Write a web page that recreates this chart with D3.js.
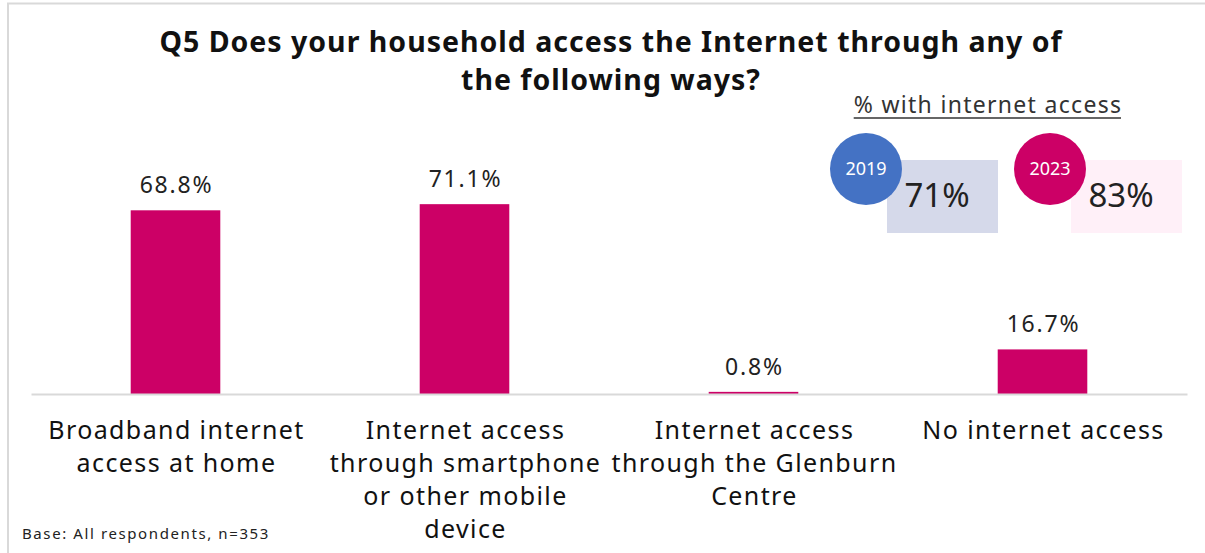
<!DOCTYPE html>
<html>
<head>
<meta charset="utf-8">
<script src="https://cdn.jsdelivr.net/npm/d3@7"></script>
<style>
  html, body { margin: 0; padding: 0; background: #fff; }
  svg { display: block; font-family: "Noto Sans", "DejaVu Sans", sans-serif; }
</style>
</head>
<body>
<svg id="chart" width="1205" height="553"></svg>
<script>
// Survey question Q5: ways households access the Internet
const titleLines = [
  "Q5 Does your household access the Internet through any of",
  "the following ways?"
];
const categories = [
  ["Broadband internet", "access at home"],
  ["Internet access", "through smartphone", "or other mobile", "device"],
  ["Internet access", "through the Glenburn", "Centre"],
  ["No internet access"]
];
const values = [68.8, 71.1, 0.8, 16.7];

// Headline comparison: share of households with internet access
const accessYears = ["2019", "2023"];
const accessShares = [71, 83];
const baseNote = "Base: All respondents, n=353";

const magenta = "#cc0066";
const yearCircleColors = ["#4472c4", "#cc0066"];
const yearBoxColors = ["#d5d9ea", "#fff0f8"];

const svg = d3.select("#chart");

// outer frame (top and left edges)
svg.append("path")
  .attr("d", "M8,553 V3.5 H1205")
  .attr("fill", "none")
  .attr("stroke", "#d9d9d9")
  .attr("stroke-width", 2);

// title
svg.append("text")
  .attr("text-anchor", "middle")
  .attr("font-weight", "bold").attr("font-size", 28.5)
  .attr("letter-spacing", 1)
  .attr("fill", "#111")
  .selectAll("tspan").data(titleLines).join("tspan")
  .attr("x", 611)
  .attr("y", (d, i) => 52 + i * 38)
  .text(d => d);

// bar chart
const x = d3.scaleBand()
  .domain(d3.range(categories.length))
  .range([31, 1187])
  .paddingInner(0.69)
  .paddingOuter(0.345);

const y = d3.scaleLinear().domain([0, 100]).range([394, 127]);

svg.append("g").selectAll("rect").data(values).join("rect")
  .attr("x", (d, i) => x(i))
  .attr("width", x.bandwidth())
  .attr("y", d => y(d))
  .attr("height", d => y(0) - y(d))
  .attr("fill", magenta);

// baseline
const xAxis = d3.axisBottom(x).tickSize(0).tickFormat("");
const axisG = svg.append("g").attr("transform", `translate(0,${y(0)})`).call(xAxis);
axisG.select(".domain").attr("stroke", "#d9d9d9").attr("stroke-width", 2);

// value labels
svg.append("g").selectAll("text").data(values).join("text")
  .attr("x", (d, i) => x(i) + x.bandwidth() / 2 + 1)
  .attr("y", d => y(d) - 17)
  .attr("text-anchor", "middle")
  .attr("font-size", 23)
  .attr("letter-spacing", 1.8)
  .attr("fill", "#222")
  .text(d => d.toFixed(1) + "%");

// category labels
const catG = svg.append("g").selectAll("text").data(categories).join("text")
  .attr("text-anchor", "middle")
  .attr("font-size", 25)
  .attr("letter-spacing", 1.4)
  .attr("fill", "#111");
catG.selectAll("tspan").data((d, i) => d.map(line => ({ line, i }))).join("tspan")
  .attr("x", d => x(d.i) + x.bandwidth() / 2 + 1)
  .attr("y", (d, j) => 439 + j * 33)
  .text(d => d.line);

// base note
svg.append("text")
  .attr("x", 22).attr("y", 539)
  .attr("font-size", 15)
  .attr("letter-spacing", 1.6)
  .attr("fill", "#222")
  .text(baseNote);

// headline comparison panel
const legendTitle = svg.append("text")
  .attr("x", 988).attr("y", 113)
  .attr("text-anchor", "middle")
  .attr("font-size", 23)
  .attr("letter-spacing", 1.3)
  .attr("fill", "#333")
  .text("% with internet access");
const ltBox = legendTitle.node().getBBox();
svg.append("line")
  .attr("x1", ltBox.x).attr("x2", ltBox.x + ltBox.width - 1.3)
  .attr("y1", 118).attr("y2", 118)
  .attr("stroke", "#333").attr("stroke-width", 1.5);

const px = d3.scaleBand().domain(accessYears).range([829, 1197]).paddingInner(0);

const groups = svg.append("g").selectAll("g").data(accessYears).join("g")
  .attr("transform", d => `translate(${px(d)},0)`);

groups.append("rect")
  .attr("x", 58).attr("y", 160)
  .attr("width", 111).attr("height", 73)
  .attr("fill", (d, i) => yearBoxColors[i]);

groups.append("circle")
  .attr("cx", 37).attr("cy", 169).attr("r", 36)
  .attr("fill", (d, i) => yearCircleColors[i]);

groups.append("text")
  .attr("x", 37).attr("y", 175)
  .attr("text-anchor", "middle")
  .attr("font-size", 18)
  .attr("fill", "#fff")
  .text(d => d);

groups.append("text")
  .attr("x", 108).attr("y", 207)
  .attr("text-anchor", "middle")
  .attr("font-size", 33)
  .attr("fill", "#222")
  .text((d, i) => accessShares[i] + "%");
</script>
</body>
</html>
